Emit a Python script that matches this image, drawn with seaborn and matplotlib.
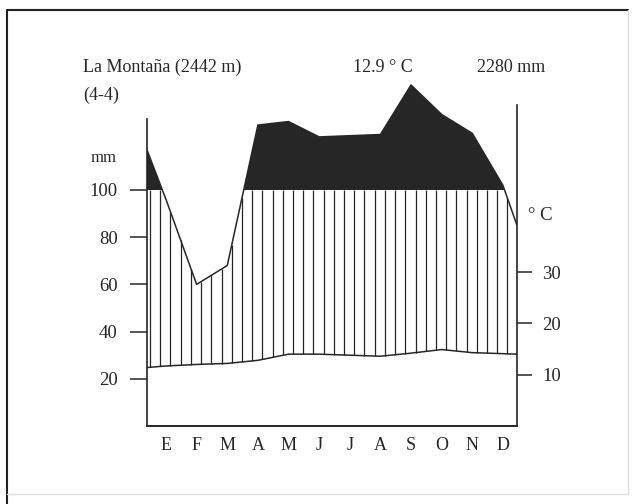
import numpy as np
import pandas as pd
import seaborn as sns
import matplotlib.pyplot as plt
from matplotlib.lines import Line2D

# monthly data (Spanish month initials)
months = ["E", "F", "M", "A", "M", "J", "J", "A", "S", "O", "N", "D"]
# precipitation in diagram units (above 100 the scale is compressed)
precip = [96, 60, 68, 127.5, 129, 122.5, 123, 123.5, 144.5, 132, 124, 102]
precip_edges = [117, 85]          # values where the curve meets the side axes
# mean monthly temperature, deg C
temp = [11.7, 12.0, 12.2, 12.8, 14.0, 14.0, 13.8, 13.6, 14.2, 14.9, 14.3, 14.1]
temp_edges = [11.4, 14.0]

mm_ticks = [20, 40, 60, 80, 100]
c_ticks = [10, 20, 30]

station = "La Montaña (2442 m)"
period = "(4-4)"
mean_temp = "12.9 ° C"
total_precip = "2280 mm"

ink = "#262626"
serif = ["Liberation Serif", "DejaVu Serif"]

sns.set_theme(style="white")
plt.rcParams["font.family"] = serif

x0, x1 = -0.62, 11.46
xs = np.concatenate([[x0], np.arange(12), [x1]])
df = pd.DataFrame({
    "x": xs,
    "precip": [precip_edges[0]] + precip + [precip_edges[1]],
    "temp": [temp_edges[0]] + temp + [temp_edges[1]],
})

fig = plt.figure(figsize=(6.36, 5.04), dpi=100)
ax = fig.add_axes([147 / 636, 78 / 504, 370 / 636, 354 / 504])
ax2 = ax.twinx()

mm_top = 150
c_top = mm_top * 2.36 / 5.13
ax.set_xlim(x0, x1)
ax.set_ylim(0, mm_top)
ax2.set_ylim(0, c_top)

# dark fill for precipitation above 100 mm
xf = np.linspace(x0, x1, 800)
pf = np.interp(xf, df["x"], df["precip"])
ax.fill_between(xf, 100, pf, where=pf > 100, color=ink, lw=0, interpolate=True)

# vertical hatching between temperature and precipitation (capped at 100)
xh = np.arange(x0 + 0.1, x1, 1 / 3)
top = np.minimum(np.interp(xh, df["x"], df["precip"]), 100)
bot = np.interp(xh, df["x"], df["temp"]) * mm_top / c_top
ax.vlines(xh, bot, top, color=ink, lw=0.9)

sns.lineplot(data=df, x="x", y="precip", ax=ax, color=ink, lw=1.1, legend=False)
sns.lineplot(data=df, x="x", y="temp", ax=ax2, color=ink, lw=1.1, legend=False)

for a in (ax, ax2):
    a.set_xlabel("")
    a.set_ylabel("")
    for s in a.spines.values():
        s.set_color(ink)
        s.set_linewidth(1.2)
    a.spines["top"].set_visible(False)

ax.spines["left"].set_bounds(0, 130)
ax2.spines["right"].set_bounds(0, 62.5)
ax.spines["right"].set_visible(False)
ax2.spines["left"].set_visible(False)

ax.set_xticks(range(12))
ax.set_xticklabels(months)
ax.tick_params(axis="x", direction="inout", length=10, width=1.1, color=ink,
               labelsize=13, pad=3, labelcolor=ink)
ax.set_yticks(mm_ticks)
ax.set_yticklabels([str(t) for t in mm_ticks])
ax.tick_params(axis="y", direction="out", length=12, width=1.1, color=ink,
               labelsize=13.5, pad=9, labelcolor=ink, left=True)
ax2.set_yticks(c_ticks)
ax2.set_yticklabels([str(t) for t in c_ticks])
ax2.tick_params(axis="y", direction="out", length=11, width=1.1, color=ink,
                labelsize=13.5, pad=7, labelcolor=ink, right=True)

# header texts and axis units
def px(x, y):
    return x / 636, 1 - y / 504

fig.text(*px(83, 67), station, fontsize=13, color=ink, va="center")
fig.text(*px(83, 95), period, fontsize=13, color=ink, va="center")
fig.text(*px(353, 67), mean_temp, fontsize=13, color=ink, va="center")
fig.text(*px(477, 67), total_precip, fontsize=13, color=ink, va="center")
fig.text(*px(117, 158), "mm", fontsize=12, color=ink, va="center", ha="right")
fig.text(*px(528, 215), "° C", fontsize=13.5, color=ink, va="center")

# page frame
fig.add_artist(Line2D([7 / 636, 7 / 636], [0, 1 - 10 / 504], color="#222222", lw=1.5))
fig.add_artist(Line2D([7 / 636, 628 / 636], [1 - 10 / 504] * 2, color="#222222", lw=1.5))
fig.add_artist(Line2D([628 / 636, 628 / 636], [1 - 10 / 504, 10 / 504], color="#dddddd", lw=1))
fig.add_artist(Line2D([7 / 636, 628 / 636], [10 / 504] * 2, color="#dddddd", lw=1))

fig.savefig("out.png", dpi=100)
